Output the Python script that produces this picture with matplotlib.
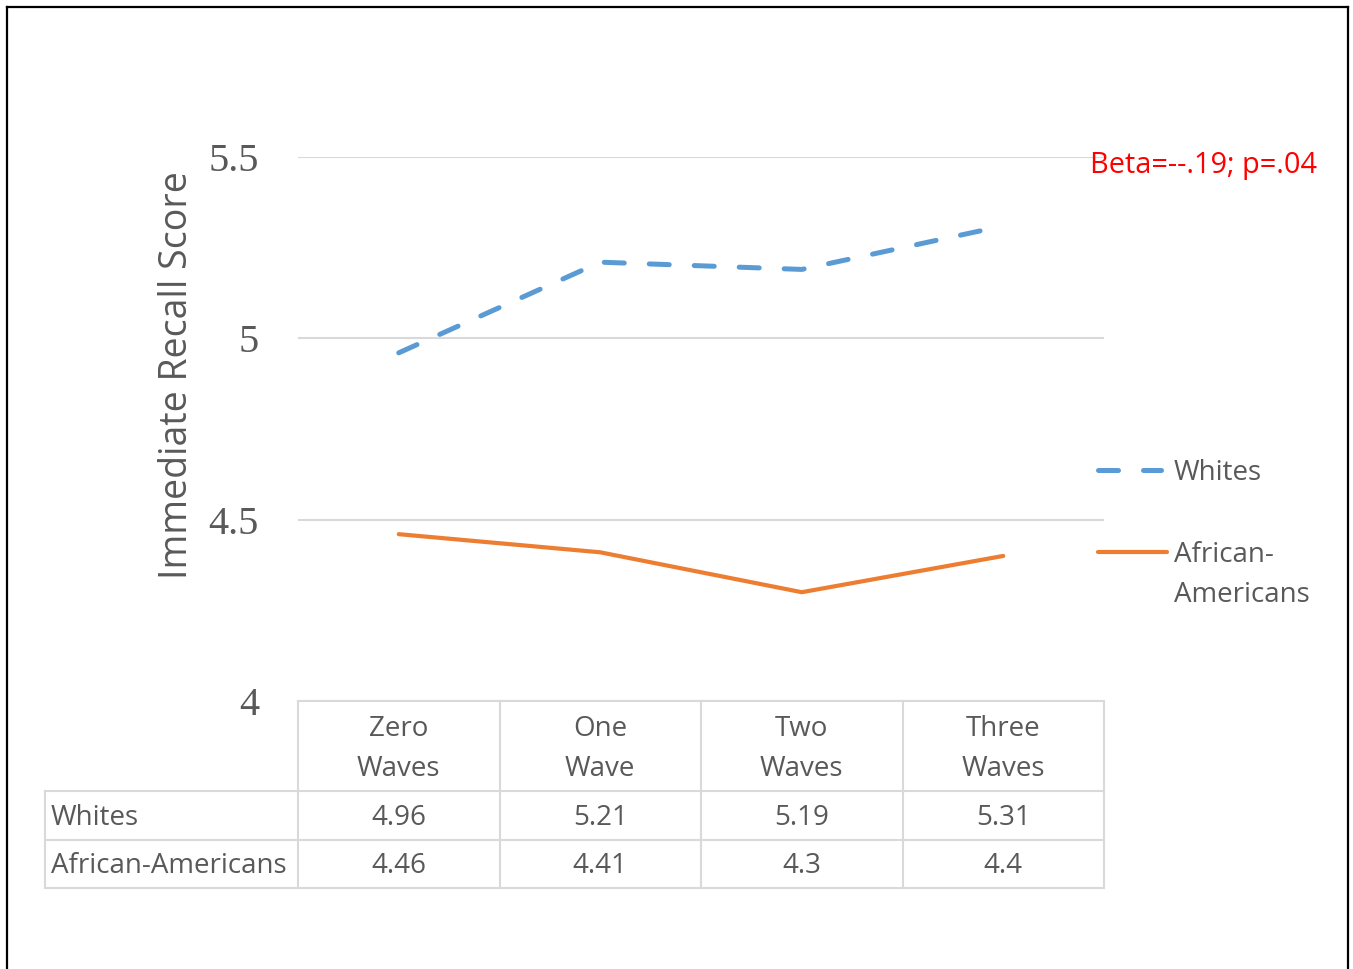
import matplotlib as mpl
mpl.use("Agg")
import matplotlib.pyplot as plt
from matplotlib.lines import Line2D
import matplotlib.transforms as mtransforms

categories = ["Zero\nWaves", "One\nWave", "Two\nWaves", "Three\nWaves"]
series_names = ["Whites", "African-Americans"]
whites = [4.96, 5.21, 5.19, 5.31]
african_americans = [4.46, 4.41, 4.30, 4.40]
yticks = [4, 4.5, 5, 5.5]
note = "Beta=--.19; p=.04"

BLUE = "#5B9BD5"
ORANGE = "#ED7D31"
GRID = "#D9D9D9"
TXT = "#595959"
SANS = "Open Sans"
FS = 20

W, H = 1353, 969
fig = plt.figure(figsize=(W / 100, H / 100), dpi=100)
fig.patch.set_facecolor("white")

# plot area in pixel terms of the original picture
px_l, px_r, px_t, px_b = 298, 1104, 157, 701
ax = fig.add_axes([px_l / W, 1 - px_b / H, (px_r - px_l) / W, (px_b - px_t) / H])
x = range(len(categories))
ax.plot(x, whites, color=BLUE, lw=3.6, dashes=(4.0, 5.0), dash_capstyle="round",
        solid_capstyle="round", zorder=3)
ax.plot(x, african_americans, color=ORANGE, lw=3.0, solid_capstyle="round", zorder=3)
ax.set_xlim(-0.5, len(categories) - 0.5)
ax.set_ylim(yticks[0], yticks[-1])
ax.set_yticks(yticks)
ax.set_yticklabels([f"{v:g}" for v in yticks], family="Liberation Serif", fontsize=29, color=TXT)
ax.tick_params(axis="y", length=0, pad=28)
ax.set_xticks([])
ax.grid(axis="y", color=GRID, lw=1.5)
for s in ax.spines.values():
    s.set_visible(False)
ax.set_ylabel("Immediate Recall Score", family=SANS, fontsize=27, color=TXT)
ax.yaxis.set_label_coords((196 - px_l) / (px_r - px_l), (px_b - 375) / (px_b - px_t))

# data table below the plot
ah = px_b - px_t
def ay(py):
    return (px_b - py) / ah
tr = mtransforms.blended_transform_factory(ax.transData, ax.transAxes)
x_lab = -0.5 + (45 - px_l) / (px_r - px_l) * len(categories)
x_right = len(categories) - 0.5
row_edges = [ay(791), ay(840), ay(888)]
line_kw = dict(color=GRID, lw=1.5, transform=tr, clip_on=False)
ax.plot([-0.5, x_right], [0, 0], **line_kw)
for ye in row_edges:
    ax.plot([x_lab, x_right], [ye, ye], **line_kw)
for xe in [i - 0.5 for i in range(len(categories) + 1)]:
    ax.plot([xe, xe], [0, row_edges[-1]], **line_kw)
ax.plot([x_lab, x_lab], [row_edges[0], row_edges[-1]], **line_kw)

for i, cat in enumerate(categories):
    ax.text(i, ay(749), cat, transform=tr, ha="center", va="center", family=SANS,
            fontsize=FS, color=TXT, linespacing=1.55)
row_y = [ay(818), ay(866)]
for name, vals, yy in zip(series_names, [whites, african_americans], row_y):
    ax.text(x_lab + 0.03, yy, name, transform=tr, ha="left", va="center", family=SANS,
            fontsize=FS, color=TXT)
    for i, v in enumerate(vals):
        ax.text(i, yy, f"{v:g}", transform=tr, ha="center", va="center", family=SANS,
                fontsize=FS, color=TXT)

# legend drawn by hand on the right
aw = px_r - px_l
def ax_x(px):
    return (px - px_l) / aw
ax.plot([ax_x(1098), ax_x(1161)], [ay(470), ay(470)], color=BLUE, lw=3.6, dashes=(4.0, 5.0),
        dash_capstyle="round", transform=ax.transAxes, clip_on=False)
ax.plot([ax_x(1098), ax_x(1167)], [ay(552), ay(552)], color=ORANGE, lw=3.0,
        solid_capstyle="round", transform=ax.transAxes, clip_on=False)
ax.text(ax_x(1174), ay(473), series_names[0], transform=ax.transAxes, ha="left", va="center",
        family=SANS, fontsize=FS, color=TXT)
ax.text(ax_x(1174), ay(575), "African-\nAmericans", transform=ax.transAxes, ha="left",
        va="center", family=SANS, fontsize=FS, color=TXT, linespacing=1.55)

ax.text(ax_x(1090), ay(165), note, transform=ax.transAxes, ha="left", va="center",
        family=SANS, fontsize=20.8, color="#FF0000")

# frame around the figure (left, top, right)
bk = dict(color="black", lw=1.6, transform=fig.transFigure)
fig.add_artist(Line2D([7 / W, 7 / W], [0, 1 - 7 / H], **bk))
fig.add_artist(Line2D([7 / W, 1348 / W], [1 - 7 / H, 1 - 7 / H], **bk))
fig.add_artist(Line2D([1348 / W, 1348 / W], [0, 1 - 7 / H], **bk))

fig.savefig("out.png", dpi=100, facecolor="white")
